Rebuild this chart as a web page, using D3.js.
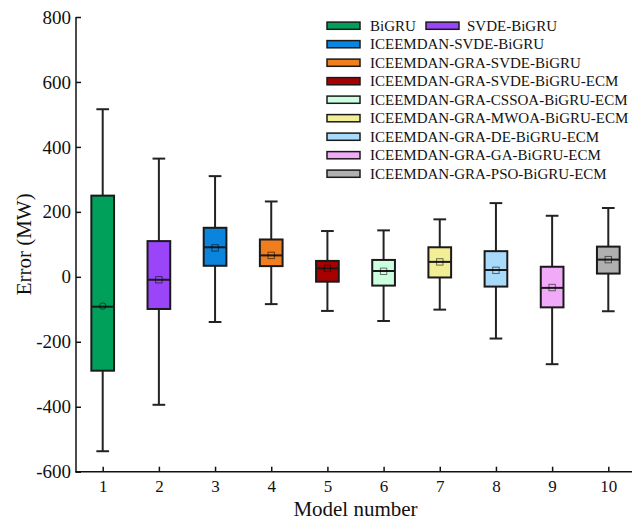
<!DOCTYPE html>
<html><head><meta charset="utf-8">
<script src="https://cdn.jsdelivr.net/npm/d3@7"></script>
<style>body{margin:0;background:#fff}svg{display:block}text{font-family:"Liberation Serif","Times New Roman",serif;fill:#111}</style>
</head><body><svg id="c" width="633" height="521"></svg>
<script>
const models = [1,2,3,4,5,6,7,8,9,10];
const names = ["BiGRU","SVDE-BiGRU","ICEEMDAN-SVDE-BiGRU","ICEEMDAN-GRA-SVDE-BiGRU","ICEEMDAN-GRA-SVDE-BiGRU-ECM","ICEEMDAN-GRA-CSSOA-BiGRU-ECM","ICEEMDAN-GRA-MWOA-BiGRU-ECM","ICEEMDAN-GRA-DE-BiGRU-ECM","ICEEMDAN-GRA-GA-BiGRU-ECM","ICEEMDAN-GRA-PSO-BiGRU-ECM"];
const colors = ["#00a05a","#9b45fa","#0a84dc","#f07d1e","#a80000","#ccffe0","#f2ee96","#a8dafa","#f0aaf8","#b0b0b0"];
const whiskerLow = [-537,-394,-139,-84,-105,-136,-101,-190,-269,-106];
const q1 = [-289,-99,34,33,-15,-27,-2,-30,-94,10];
const medians = [-92,-9,91,66,26,18,46,21,-34,53];
const q3 = [250,110,151,115,49,52,91,79,31,93];
const whiskerHigh = [516,364,310,232,141,143,177,227,188,212];
const means = [-90,-9,89,66,26,17,46,20,-33,53];
const yTicks = [-600,-400,-200,0,200,400,600,800];

const svg = d3.select("#c");
const x = d3.scaleLinear().domain([1,10]).range([102.7,608.3]);
const xLeft = 76, xRight = 632;
const y = d3.scaleLinear().domain([-600,800]).range([471.7,17]);

// axes
const yAxis = d3.axisLeft(y).tickValues(yTicks).tickFormat(d=>String(d)).tickSizeInner(-5).tickSizeOuter(0).tickPadding(5);
const gy = svg.append("g").attr("transform",`translate(${xLeft},0)`).call(yAxis);
gy.select(".domain").remove();
gy.selectAll(".tick line").attr("stroke","#111").attr("stroke-width",1.5);
gy.selectAll("text").style("font-size","19px").attr("fill","#111");
svg.append("line").attr("x1",xLeft).attr("x2",xLeft).attr("y1",y(800)).attr("y2",y(-600)+0.75).attr("stroke","#111").attr("stroke-width",1.5);

const xAxis = d3.axisBottom(x).tickValues(models).tickFormat(d=>String(d)).tickSizeInner(-5).tickSizeOuter(0).tickPadding(8);
const gx = svg.append("g").attr("transform",`translate(0,${y(-600)})`).call(xAxis);
gx.select(".domain").remove();
gx.selectAll(".tick line").attr("stroke","#111").attr("stroke-width",1.5);
gx.selectAll("text").style("font-size","17px").attr("fill","#111");
svg.append("line").attr("x1",xLeft-0.75).attr("x2",xRight).attr("y1",y(-600)).attr("y2",y(-600)).attr("stroke","#111").attr("stroke-width",1.5);

svg.append("text").attr("x",x(5.5)).attr("y",516).attr("text-anchor","middle").style("font-size","21px").text("Model number");
svg.append("text").attr("transform",`translate(31,${y(100)}) rotate(-90)`).attr("text-anchor","middle").style("font-size","21px").text("Error (MW)");

// boxes
const bw = 22.7, cw = 12.7;
const g = svg.append("g");
models.forEach((m,i)=>{
  const cx = x(m);
  const gg = g.append("g");
  gg.append("line").attr("x1",cx).attr("x2",cx).attr("y1",y(whiskerHigh[i])).attr("y2",y(q3[i])).attr("stroke","#222").attr("stroke-width",2);
  gg.append("line").attr("x1",cx).attr("x2",cx).attr("y1",y(q1[i])).attr("y2",y(whiskerLow[i])).attr("stroke","#222").attr("stroke-width",2);
  [whiskerHigh[i],whiskerLow[i]].forEach(v=>gg.append("line").attr("x1",cx-cw/2).attr("x2",cx+cw/2).attr("y1",y(v)).attr("y2",y(v)).attr("stroke","#222").attr("stroke-width",2));
  gg.append("rect").attr("x",cx-bw/2).attr("y",y(q3[i])).attr("width",bw).attr("height",y(q1[i])-y(q3[i])).attr("fill",colors[i]).attr("stroke","#1a1a1a").attr("stroke-width",2);
  gg.append("line").attr("x1",cx-bw/2).attr("x2",cx+bw/2).attr("y1",y(medians[i])).attr("y2",y(medians[i])).attr("stroke","#1a1a1a").attr("stroke-width",2);
  if(i===0){
    gg.append("circle").attr("cx",cx).attr("cy",y(means[i])).attr("r",3.2).attr("fill","none").attr("stroke","rgba(0,0,0,0.55)").attr("stroke-width",1);
  } else {
    gg.append("rect").attr("x",cx-3.2).attr("y",y(means[i])-3.2).attr("width",6.4).attr("height",6.4).attr("fill","none").attr("stroke","rgba(0,0,0,0.55)").attr("stroke-width",1);
  }
});

// legend
const lg = svg.append("g");
const legPos = names.map((n,i)=>{
  if(i===0) return {sx:327, tx:370, row:0};
  if(i===1) return {sx:426, tx:467, row:0};
  return {sx:327, tx:370, row:i-1};
});
names.forEach((n,i)=>{
  const p = legPos[i];
  const cy = 25.7 + p.row*18.5;
  lg.append("rect").attr("x",p.sx).attr("y",cy-3.6).attr("width",33).attr("height",7.2).attr("fill",colors[i]).attr("stroke","#1a1a1a").attr("stroke-width",1.5);
  lg.append("text").attr("x",p.tx).attr("y",cy+5).style("font-size","15px").text(n);
});
</script></body></html>
